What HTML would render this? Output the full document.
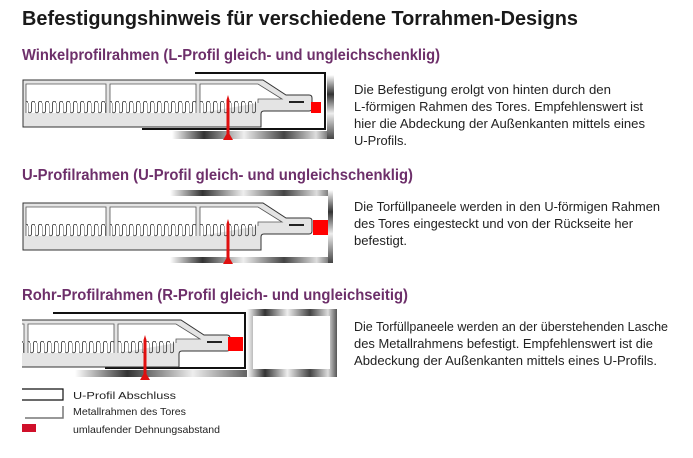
<!DOCTYPE html>
<html><head><meta charset="utf-8"><style>
html,body{margin:0;padding:0;background:#fff;width:693px;height:458px;overflow:hidden}
text{font-family:"Liberation Sans",sans-serif}
</style></head><body>
<svg width="693" height="458" viewBox="0 0 693 458" xmlns="http://www.w3.org/2000/svg">
<defs>
<linearGradient id="met" x1="0" x2="1" y1="0" y2="0">
<stop offset="0" stop-color="#fff"/><stop offset="0.2" stop-color="#333"/><stop offset="0.45" stop-color="#eee"/><stop offset="0.7" stop-color="#444"/><stop offset="0.9" stop-color="#ddd"/><stop offset="1" stop-color="#555"/></linearGradient>
<linearGradient id="metv" x1="0" x2="0" y1="0" y2="1">
<stop offset="0" stop-color="#fff"/><stop offset="0.3" stop-color="#333"/><stop offset="0.6" stop-color="#eee"/><stop offset="1" stop-color="#444"/></linearGradient>
<pattern id="fing" x="0" y="101" width="7" height="14" patternUnits="userSpaceOnUse">
<path d="M0,2 V10 a1.75,1.75 0 0 0 3.5,0 V2 a1.75,1.75 0 0 1 3.5,0" fill="none" stroke="#444" stroke-width="0.9"/>
</pattern>
<g id="panel">
<path d="M23,80 H263 L286,95 H309 Q312,95 312,98 V108 Q312,111 309,111 H264 Q261,111 261,114 V127 H23 Z" fill="#e4e4e4" stroke="#333" stroke-width="1"/>
<path d="M26,113 V84 H106 V113 M110,113 V84 H196 V113 M200,113 V84 H258 L282,99 H258 V103" fill="#fff" stroke="#555" stroke-width="0.8"/>
<rect x="26" y="101" width="80" height="13" fill="url(#fing)"/>
<rect x="110" y="101" width="86" height="13" fill="url(#fing)"/>
<rect x="200" y="101" width="56" height="13" fill="url(#fing)"/>
<line x1="289" y1="102" x2="304" y2="102" stroke="#222" stroke-width="2"/>
</g>
<g id="screw"><path d="M0,-45 L1.5,-40 V-6 L5,0 H-5 L-1.5,-6 V-40 Z" fill="#e01010"/></g>
<clipPath id="c3"><rect x="22" y="300" width="320" height="90"/></clipPath>
</defs>

<text x="22" y="25" font-size="20" font-weight="bold" fill="#1a1a1a" textLength="556" lengthAdjust="spacingAndGlyphs">Befestigungshinweis für verschiedene Torrahmen-Designs</text>

<text x="22" y="60" font-size="15.5" font-weight="bold" fill="#6d2f6a" textLength="418" lengthAdjust="spacingAndGlyphs">Winkelprofilrahmen (L-Profil gleich- und ungleichschenklig)</text>
<text x="22" y="180" font-size="15.5" font-weight="bold" fill="#6d2f6a" textLength="391" lengthAdjust="spacingAndGlyphs">U-Profilrahmen (U-Profil gleich- und ungleichschenklig)</text>
<text x="22" y="300" font-size="15.5" font-weight="bold" fill="#6d2f6a" textLength="386" lengthAdjust="spacingAndGlyphs">Rohr-Profilrahmen (R-Profil gleich- und ungleichseitig)</text>

<g font-size="12.5" fill="#222">
<text x="354" y="94" textLength="257" lengthAdjust="spacingAndGlyphs">Die Befestigung erolgt von hinten durch den</text>
<text x="354" y="111" textLength="289" lengthAdjust="spacingAndGlyphs">L-förmigen Rahmen des Tores. Empfehlenswert ist</text>
<text x="354" y="128" textLength="291" lengthAdjust="spacingAndGlyphs">hier die Abdeckung der Außenkanten mittels eines</text>
<text x="354" y="145" textLength="53" lengthAdjust="spacingAndGlyphs">U-Profils.</text>
<text x="354" y="211" textLength="306" lengthAdjust="spacingAndGlyphs">Die Torfüllpaneele werden in den U-förmigen Rahmen</text>
<text x="354" y="228" textLength="279" lengthAdjust="spacingAndGlyphs">des Tores eingesteckt und von der Rückseite her</text>
<text x="354" y="245" textLength="53" lengthAdjust="spacingAndGlyphs">befestigt.</text>
<text x="354" y="331" textLength="314" lengthAdjust="spacingAndGlyphs">Die Torfüllpaneele werden an der überstehenden Lasche</text>
<text x="354" y="348" textLength="299" lengthAdjust="spacingAndGlyphs">des Metallrahmens befestigt. Empfehlenswert ist die</text>
<text x="354" y="365" textLength="303" lengthAdjust="spacingAndGlyphs">Abdeckung der Außenkanten mittels eines U-Profils.</text>
</g>

<!-- Diagram 1 -->
<rect x="172" y="131" width="160" height="8" fill="url(#met)"/>
<rect x="327" y="75" width="7" height="64" fill="url(#metv)"/>
<path d="M195,73 H325 V129 H142" fill="none" stroke="#111" stroke-width="2"/>
<use href="#panel"/>
<rect x="311" y="102" width="10" height="11" fill="#f00"/>
<use href="#screw" transform="translate(228,140)"/>

<!-- Diagram 2 -->
<rect x="170" y="190" width="163" height="6" fill="url(#met)"/>
<rect x="170" y="257" width="163" height="6" fill="url(#met)"/>
<rect x="328" y="190" width="5" height="73" fill="url(#metv)"/>
<g transform="translate(0,123)"><use href="#panel"/></g>
<rect x="313" y="220" width="15" height="15" fill="#f00"/>
<use href="#screw" transform="translate(228,264)"/>

<!-- Diagram 3 -->
<rect x="75" y="370" width="262" height="7" fill="url(#met)"/>
<rect x="247" y="309" width="90" height="68" fill="url(#met)"/>
<rect x="253" y="316" width="77" height="53" fill="#fff"/>
<path d="M53,313 H245 V368 H105" fill="none" stroke="#111" stroke-width="2"/>
<g clip-path="url(#c3)"><g transform="translate(-82,240)"><use href="#panel"/></g></g>
<rect x="228" y="337" width="15" height="14" fill="#f00"/>
<use href="#screw" transform="translate(145,380)"/>

<!-- Legend -->
<path d="M22,389 H63 V400 H22" fill="none" stroke="#111" stroke-width="1.2"/>
<path d="M25,418 H63 V406" fill="none" stroke="#777" stroke-width="1.5"/>
<rect x="22" y="424" width="14" height="8" fill="#d0102a"/>
<g font-size="10.5" fill="#222">
<text x="73" y="399" textLength="103" lengthAdjust="spacingAndGlyphs">U-Profil Abschluss</text>
<text x="73" y="415" textLength="113" lengthAdjust="spacingAndGlyphs">Metallrahmen des Tores</text>
<text x="73" y="433" textLength="147" lengthAdjust="spacingAndGlyphs">umlaufender Dehnungsabstand</text>
</g>
</svg>
</body></html>
